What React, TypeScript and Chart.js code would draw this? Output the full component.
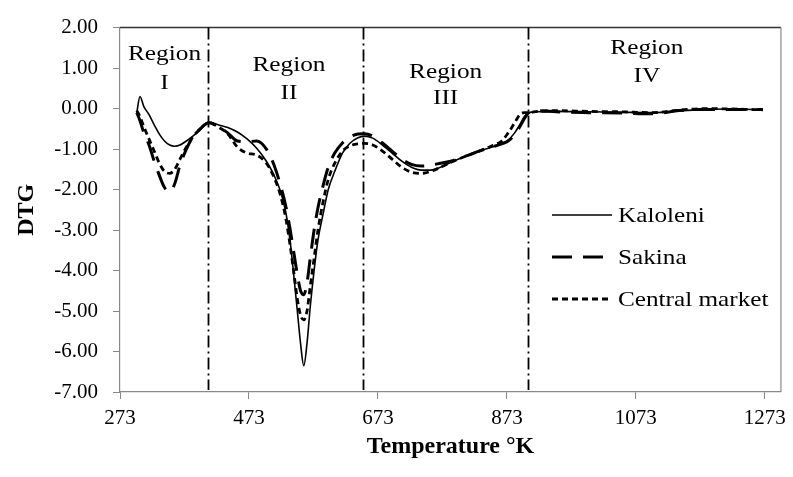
import React, { useEffect, useRef } from "react";
import { Chart, registerables } from "chart.js";

Chart.register(...registerables);

// ---------- data ----------
const temperatures = [
  299, 304, 310, 318, 326, 334, 342, 350, 358, 366, 376, 386, 396, 411, 425, 440, 455, 470, 485, 500,
  512, 522, 530, 537, 543, 548, 553, 558, 563, 568, 574, 580, 588, 596, 606, 618, 630, 642, 652, 665,
  680, 695, 710, 725, 740, 755, 770, 790, 810, 830, 850, 865, 875, 885, 893, 900, 907, 920, 950, 1000,
  1050, 1100, 1140, 1180, 1220, 1270,
];

const kaloleni = [
  -0.1, 0.3, 0.05, -0.15, -0.4, -0.63, -0.8, -0.9, -0.93, -0.9, -0.8, -0.68, -0.55, -0.33, -0.4, -0.47, -0.58, -0.75, -0.98, -1.3,
  -1.65, -2.05, -2.55, -3.3, -4.2, -5.0, -5.8, -6.35, -5.8, -4.9, -4.0, -3.25, -2.6, -2.0, -1.55, -1.1, -0.85, -0.72, -0.68, -0.73,
  -0.9, -1.1, -1.3, -1.45, -1.52, -1.52, -1.45, -1.3, -1.17, -1.05, -0.95, -0.87, -0.78, -0.6, -0.4, -0.2, -0.1, -0.08, -0.07, -0.08,
  -0.09, -0.1, -0.06, -0.02, -0.01, -0.03,
];

const sakina = [
  -0.1, -0.3, -0.6, -0.9, -1.3, -1.65, -1.95, -2.05, -1.85, -1.4, -1.0, -0.7, -0.52, -0.35, -0.45, -0.6, -0.8, -0.82, -0.8, -1.0,
  -1.4, -1.9, -2.4, -3.0, -3.6, -4.1, -4.5, -4.6, -4.3, -3.7, -3.0, -2.45, -1.9, -1.45, -1.1, -0.85, -0.7, -0.63, -0.62, -0.68,
  -0.85, -1.05, -1.25, -1.38, -1.42, -1.4, -1.35, -1.28, -1.17, -1.05, -0.95, -0.87, -0.8, -0.65, -0.45, -0.25, -0.1, -0.05, -0.08, -0.1,
  -0.11, -0.13, -0.05, -0.02, -0.02, -0.02,
];

const centralMarket = [
  -0.05, -0.2, -0.45, -0.75, -1.05, -1.35, -1.55, -1.6, -1.5, -1.25, -0.95, -0.7, -0.52, -0.35, -0.45, -0.62, -0.95, -1.1, -1.15, -1.35,
  -1.7, -2.15, -2.7, -3.4, -4.1, -4.7, -5.1, -5.22, -5.0, -4.4, -3.7, -3.0, -2.3, -1.75, -1.35, -1.05, -0.92, -0.87, -0.86, -0.9,
  -1.05, -1.25, -1.45, -1.57, -1.6, -1.55, -1.45, -1.3, -1.17, -1.05, -0.92, -0.8, -0.6, -0.35, -0.15, -0.1, -0.1, -0.07, -0.05, -0.07,
  -0.08, -0.1, -0.04, 0.0, -0.01, -0.03,
];

const xTicks = [273, 473, 673, 873, 1073, 1273];
const yTicks = [2, 1, 0, -1, -2, -3, -4, -5, -6, -7];

const regionBoundaries = [410, 650, 905];
const regionNames = ["I", "II", "III", "IV"];
const regionCenters = [342, 535, 778, 1090];
const regionWordLevels = [1.35, 1.07, 0.9, 1.49];
const regionNumberLevels = [0.62, 0.38, 0.26, 0.8];

const seriesNames = ["Kaloleni", "Sakina", "Central market"];

const SERIF = "'Liberation Serif', 'Times New Roman', serif";

function stretchedText(ctx: CanvasRenderingContext2D, text: string, x: number, y: number, sx: number) {
  ctx.save();
  ctx.translate(x, y);
  ctx.scale(sx, 1);
  ctx.fillText(text, 0, 0);
  ctx.restore();
}

export default function App() {
  const canvasRef = useRef<HTMLCanvasElement | null>(null);

  useEffect(() => {
    const canvas = canvasRef.current;
    if (!canvas) return;

    const styles = [
      { width: 1.6, dash: [] as number[] },
      { width: 3, dash: [20, 11] },
      { width: 2.8, dash: [6, 4] },
    ];
    const values = [kaloleni, sakina, centralMarket];

    const overlay = {
      id: "overlay",
      beforeDatasetsDraw(chart: any) {
        const { ctx, chartArea, scales } = chart;
        const x = scales.x;
        ctx.save();
        ctx.lineWidth = 1.5;
        ctx.strokeStyle = "#333";
        ctx.beginPath();
        ctx.moveTo(chartArea.left, chartArea.top);
        ctx.lineTo(chartArea.right, chartArea.top);
        ctx.stroke();
        ctx.strokeStyle = "#888";
        ctx.lineWidth = 1.2;
        ctx.beginPath();
        ctx.moveTo(chartArea.right, chartArea.top);
        ctx.lineTo(chartArea.right, chartArea.bottom);
        ctx.stroke();
        ctx.strokeStyle = "#000";
        ctx.lineWidth = 1.8;
        ctx.setLineDash([12, 4, 2, 4]);
        for (const b of regionBoundaries) {
          const px = Math.round(x.getPixelForValue(b)) + 0.5;
          ctx.beginPath();
          ctx.moveTo(px, chartArea.top);
          ctx.lineTo(px, chartArea.bottom - 2);
          ctx.stroke();
        }
        ctx.restore();
      },
      afterDatasetsDraw(chart: any) {
        const { ctx, scales } = chart;
        const x = scales.x;
        const y = scales.y;
        ctx.save();
        ctx.fillStyle = "#000";
        ctx.font = `22px ${SERIF}`;
        ctx.textAlign = "center";
        ctx.textBaseline = "middle";
        regionNames.forEach((nm, i) => {
          const cx = x.getPixelForValue(regionCenters[i]);
          stretchedText(ctx, "Region", cx, y.getPixelForValue(regionWordLevels[i]), 1.15);
          stretchedText(ctx, nm, cx, y.getPixelForValue(regionNumberLevels[i]), 1.15);
        });
        const lx0 = 552;
        const lx1 = 612;
        const rows = [215, 257, 299];
        ctx.textAlign = "left";
        ctx.font = `21px ${SERIF}`;
        seriesNames.forEach((nm, i) => {
          ctx.strokeStyle = "#000";
          ctx.lineWidth = styles[i].width;
          ctx.setLineDash(styles[i].dash);
          ctx.beginPath();
          ctx.moveTo(lx0, rows[i]);
          ctx.lineTo(lx1, rows[i]);
          ctx.stroke();
          ctx.setLineDash([]);
          stretchedText(ctx, nm, 618, rows[i] + 1, 1.2);
        });
        ctx.restore();
      },
    };

    const chart = new Chart(canvas, {
      type: "line",
      data: {
        datasets: seriesNames.map((nm, i) => ({
          label: nm,
          data: temperatures.map((t, j) => ({ x: t, y: values[i][j] })),
          borderColor: "#000",
          backgroundColor: "#000",
          borderWidth: styles[i].width,
          borderDash: styles[i].dash,
          pointRadius: 0,
          cubicInterpolationMode: "monotone" as const,
          fill: false,
        })),
      },
      options: {
        animation: false,
        responsive: false,
        devicePixelRatio: 1,
        layout: { padding: { top: 22, right: 7, left: 0, bottom: 0 } },
        plugins: { legend: { display: false }, tooltip: { enabled: false } },
        scales: {
          x: {
            type: "linear",
            min: 273,
            max: 1298,
            afterBuildTicks: (s: any) => {
              s.ticks = xTicks.map((v) => ({ value: v }));
            },
            afterFit: (s: any) => {
              s.height = 85;
            },
            ticks: {
              color: "#000",
              font: { family: SERIF, size: 21 },
              padding: 7,
              maxRotation: 0,
              autoSkip: false,
              callback: (v: any) => String(v),
            },
            grid: { drawOnChartArea: false, drawTicks: true, tickLength: 7, color: "#888" },
            border: { color: "#888", width: 1.2 },
            title: {
              display: true,
              text: "Temperature \u00B0K",
              color: "#000",
              font: { family: SERIF, size: 24, weight: "bold" },
              padding: { top: 16, bottom: 16 },
            },
          },
          y: {
            type: "linear",
            min: -7,
            max: 2,
            afterBuildTicks: (s: any) => {
              s.ticks = yTicks.map((v) => ({ value: v }));
            },
            afterFit: (s: any) => {
              s.width = 120;
            },
            ticks: {
              color: "#000",
              font: { family: SERIF, size: 21 },
              padding: 15,
              callback: (v: any) => Number(v).toFixed(2),
            },
            grid: { drawOnChartArea: false, drawTicks: true, tickLength: 7, color: "#888" },
            border: { color: "#888", width: 1.2 },
            title: {
              display: true,
              text: "DTG",
              color: "#000",
              font: { family: SERIF, size: 24, weight: "bold" },
              padding: { top: 12, bottom: 0 },
            },
          },
        },
      },
      plugins: [overlay],
    });

    return () => {
      chart.destroy();
    };
  }, []);

  return (
    <div style={{ position: "absolute", left: 0, top: 0, width: 793, height: 477, background: "#fff" }}>
      <canvas ref={canvasRef} width={793} height={477} style={{ display: "block" }} />
    </div>
  );
}
